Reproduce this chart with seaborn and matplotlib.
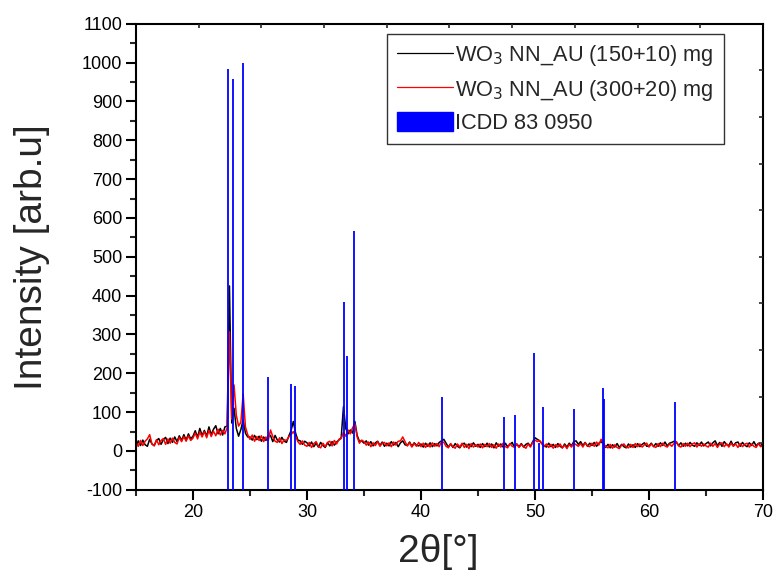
import numpy as np
import seaborn as sns
import matplotlib.pyplot as plt
from matplotlib.patches import Patch
from matplotlib.ticker import MultipleLocator

# 2theta grid of the scans (0.2 deg step, 15 -> 70)
two_theta = np.linspace(15, 70, 276)

# WO3 NN_AU (150+10) mg
black_counts = [
    10, 26, 14, 28, 16, 12, 30, 18, 14, 27, 32, 17, 29, 35, 19, 33, 22, 36, 24, 39, 27, 42, 28, 44, 31,
    38, 52, 35, 58, 40, 53, 38, 62, 42, 56, 65, 44, 58, 41, 62, 64, 425, 72, 110, 58, 38, 55, 80, 46, 36,
    36, 28, 40, 29, 38, 25, 36, 27, 39, 40, 24, 40, 28, 23, 35, 25, 22, 38, 52, 76, 46, 28, 26, 17, 25,
    21, 13, 23, 11, 20, 10, 22, 14, 9, 21, 13, 24, 15, 23, 28, 34, 114, 58, 44, 54, 46, 76, 40, 25, 26,
    20, 26, 15, 24, 13, 21, 25, 14, 23, 12, 20, 13, 24, 15, 22, 11, 21, 26, 16, 14, 23, 12, 21, 15, 13,
    18, 10, 20, 12, 21, 11, 19, 13, 22, 26, 30, 20, 10, 18, 9, 19, 12, 8, 17, 20, 10, 18, 11, 21, 12,
    17, 9, 19, 11, 20, 10, 18, 8, 21, 12, 18, 10, 20, 11, 17, 22, 9, 18, 11, 19, 10, 17, 20, 12, 24,
    34, 30, 26, 20, 14, 10, 20, 11, 17, 9, 19, 12, 8, 18, 10, 20, 13, 24, 26, 17, 24, 14, 22, 12, 20,
    14, 22, 12, 20, 24, 18, 9, 17, 8, 16, 10, 19, 9, 17, 11, 8, 18, 10, 16, 9, 19, 11, 17, 21, 12,
    13, 20, 11, 19, 12, 21, 14, 23, 13, 20, 22, 25, 22, 14, 21, 12, 20, 13, 22, 15, 12, 21, 14, 23, 13,
    19, 23, 13, 21, 26, 14, 22, 12, 24, 16, 14, 25, 13, 21, 23, 12, 22, 15, 11, 21, 14, 24, 13, 20, 12, 21,
]

# WO3 NN_AU (300+20) mg
red_counts = [
    22, 12, 27, 14, 25, 31, 42, 18, 13, 29, 16, 27, 32, 17, 31, 20, 33, 22, 18, 35, 24, 37, 25, 39, 27,
    33, 46, 31, 49, 36, 50, 34, 53, 37, 51, 39, 56, 41, 53, 44, 60, 307, 82, 170, 92, 64, 74, 147, 62, 42,
    30, 41, 25, 37, 27, 39, 24, 36, 27, 54, 37, 25, 22, 34, 19, 29, 27, 36, 42, 50, 38, 24, 17, 26, 15,
    12, 22, 9, 19, 24, 12, 8, 20, 11, 22, 25, 13, 27, 18, 30, 32, 48, 38, 54, 44, 60, 70, 36, 20, 28,
    24, 15, 23, 11, 21, 14, 24, 12, 20, 22, 13, 21, 11, 23, 15, 25, 26, 36, 24, 13, 21, 10, 19, 12, 22,
    11, 20, 9, 18, 10, 21, 12, 19, 11, 24, 22, 12, 8, 19, 11, 7, 18, 10, 20, 9, 17, 6, 19, 10, 16,
    10, 18, 8, 17, 11, 19, 9, 16, 7, 18, 10, 20, 11, 8, 19, 12, 10, 18, 9, 17, 11, 7, 18, 10, 22,
    28, 24, 27, 18, 11, 18, 9, 17, 7, 16, 10, 18, 8, 15, 6, 17, 10, 20, 16, 12, 19, 10, 21, 13, 11,
    20, 12, 23, 15, 30, 20, 11, 8, 17, 7, 16, 9, 6, 15, 18, 10, 8, 17, 9, 19, 11, 18, 10, 16, 20,
    10, 18, 12, 9, 19, 11, 20, 13, 10, 18, 12, 20, 24, 13, 10, 19, 12, 20, 11, 18, 21, 10, 19, 12, 18,
    13, 10, 20, 12, 19, 9, 18, 21, 11, 19, 10, 20, 12, 18, 9, 19, 11, 17, 20, 10, 18, 12, 9, 19, 11, 15,
]

# reference pattern ICDD 83 0950
icdd_pos = [23.10, 23.54, 24.36, 26.58, 28.60, 28.92, 33.21, 33.52, 34.15, 41.87,
            47.25, 48.22, 49.94, 50.35, 50.73, 53.45, 55.94, 56.08, 62.28]
icdd_int = [983, 957, 1000, 191, 172, 168, 384, 244, 567, 138,
            88, 93, 253, 20, 113, 107, 162, 135, 126]

sns.set_theme(style="ticks")
plt.rcParams["font.family"] = ["Liberation Sans", "DejaVu Sans"]
plt.rcParams["axes.unicode_minus"] = False

fig = plt.figure(figsize=(7.77, 5.81), dpi=100)
ax = fig.add_axes([0.175, 0.157, 0.807, 0.802])

sns.lineplot(x=two_theta, y=black_counts, color="black", linewidth=1.1, ax=ax)
sns.lineplot(x=two_theta, y=red_counts, color="red", linewidth=1.1, ax=ax)
ax.vlines(icdd_pos, -100, icdd_int, color="blue", linewidth=1.3, zorder=3)

ax.set_xlim(15, 70)
ax.set_ylim(-100, 1100)
ax.xaxis.set_major_locator(MultipleLocator(10))
ax.xaxis.set_minor_locator(MultipleLocator(5))
ax.yaxis.set_major_locator(MultipleLocator(100))
ax.yaxis.set_minor_locator(MultipleLocator(50))
ax.tick_params(which="major", direction="out", length=7, width=1.5, labelsize=13, pad=3, colors="black")
ax.tick_params(which="minor", direction="out", length=4, width=1.5)
for s in ax.spines.values():
    s.set_linewidth(1.5)
    s.set_color("black")

ax.set_ylabel("Intensity [arb.u]", fontsize=28, labelpad=23)
ax.set_xlabel("2θ[°]", fontsize=28)
ax.xaxis.set_label_coords(0.482, -0.095)
ax.xaxis.label.set_va("top")

# top / right axes with their own inward ticks
frame = fig.add_axes(ax.get_position(), facecolor="none")
frame.set_xlim(0, 1)
frame.set_ylim(0, 1)
frame.set_xticks(np.arange(1, 10) / 10)
frame.set_yticks(np.arange(1, 10) / 10)
frame.tick_params(bottom=False, left=False, top=True, right=True,
                  labelbottom=False, labelleft=False, direction="in", length=3, width=1.2)
for s in frame.spines.values():
    s.set_visible(False)

handles = [
    plt.Line2D([], [], color="black", linewidth=0.9),
    plt.Line2D([], [], color="red", linewidth=0.9),
    Patch(facecolor="blue", edgecolor="blue"),
]
labels = ["WO$_3$ NN_AU (150+10) mg", "WO$_3$ NN_AU (300+20) mg", "ICDD 83 0950"]
leg = ax.legend(handles, labels, loc="upper left", bbox_to_anchor=(0.40, 0.979),
                fontsize=15.7, frameon=True, fancybox=False, edgecolor="black",
                handlelength=2.6, handleheight=1.0, handletextpad=0.1,
                labelspacing=0.42, borderpad=0.45, borderaxespad=0)
leg.get_frame().set_linewidth(1.0)

fig.savefig("out.png", dpi=100)
